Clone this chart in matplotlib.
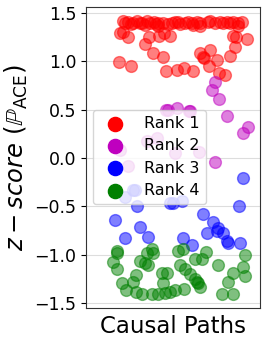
import numpy as np
import matplotlib
matplotlib.use("Agg")
import matplotlib.pyplot as plt

# scatter of z-scores per causal path, coloured by rank
rank1_x = [21.3, 24.1, 27.0, 29.3, 32.2, 35.1, 36.8, 39.1, 41.4, 44.3, 49.4, 51.1, 52.9,
           58.6, 60.9, 63.8, 65.5, 70.1, 71.3, 77.0, 78.7, 81.0, 82.8, 87.4, 89.7,
           22.4, 25.9, 31.0, 33.9, 40.2, 47.1, 54.0, 61.5, 65.5, 87.4, 41.4, 56.9, 74.1, 84.5,
           19.5, 21.3, 24.1, 33.9, 38.5, 44.3, 19.0, 25.9, 46.0, 52.3, 56.3, 61.5, 48.3,
           42.0, 44.8, 36.2, 65.5, 67.8, 71.3, 70.7, 75.3, 76.4, 79.9, 82.8, 85.6, 86.2,
           84.5, 92.5, 67.2]
rank1_y = [1.42, 1.41, 1.40, 1.42, 1.40, 1.42, 1.40, 1.41, 1.39, 1.40, 1.40, 1.41, 1.41,
           1.41, 1.40, 1.41, 1.40, 1.41, 1.42, 1.41, 1.40, 1.41, 1.40, 1.40, 1.41,
           1.39, 1.38, 1.39, 1.37, 1.38, 1.38, 1.38, 1.37, 1.36, 1.36, 1.36, 1.39, 1.40, 1.41,
           1.29, 1.30, 1.25, 1.18, 1.09, 1.045, 0.99, 0.95, 0.90, 0.91, 0.93, 0.90, 1.26,
           1.26, 1.29, 1.25, 1.08, 1.03, 1.12, 0.95, 1.01, 0.88, 0.86, 1.05, 1.15, 1.25,
           1.26, 1.23, 1.04]

rank2_x = [74.1, 72.4, 76.4, 47.1, 52.3, 59.2, 81.0, 93.1, 90.2, 74.1, 64.9, 51.1,
           40.8, 35.1, 19.5, 24.1, 59.8, 46.0]
rank2_y = [0.78, 0.70, 0.61, 0.50, 0.52, 0.48, 0.43, 0.32, 0.26, -0.04, 0.06, 0.05,
           0.21, 0.17, 0.08, -0.08, 0.48, 0.50]

rank3_x = [90.2, 87.9, 16.7, 22.4, 28.2, 29.3, 48.3, 55.2, 67.2, 73.0, 31.0, 75.9,
           22.4, 35.6, 55.7, 60.9, 69.5, 75.3, 78.7, 81.6, 88.5, 81.0, 50.0, 27.0]
rank3_y = [-0.21, -0.50, -0.64, -0.40, -0.33, -0.50, -0.47, -0.45, -0.58, -0.66, -0.71, -0.72,
           -0.83, -0.82, -0.83, -0.90, -0.78, -0.76, -0.78, -0.88, -0.88, -0.86, -0.47, -0.33]

rank4_x = [17.8, 17.8, 15.5, 17.8, 20.7, 23.0, 28.7, 27.0, 28.7, 31.0, 33.9, 35.1,
           37.9, 38.5, 35.6, 32.2, 37.9, 41.4, 44.3, 43.7, 46.6, 48.3, 51.1, 56.3,
           54.0, 56.9, 59.8, 62.6, 64.4, 65.5, 52.9, 55.7, 62.6, 66.7, 69.0, 75.9,
           78.2, 84.5, 81.6, 84.5, 91.4, 90.2, 91.4, 63.8, 45.4]
rank4_y = [-0.96, -0.98, -1.08, -1.15, -1.29, -1.37, -1.39, -1.28, -1.21, -1.07, -1.09, -0.98,
           -0.94, -0.98, -1.11, -1.41, -1.41, -1.41, -1.29, -1.19, -1.19, -1.39, -1.37, -1.36,
           -1.11, -1.15, -1.20, -1.25, -1.29, -1.33, -0.96, -0.94, -1.05, -1.05, -0.97, -1.11,
           -1.41, -1.41, -1.28, -1.19, -1.00, -1.13, -1.22, -1.28, -1.40]

ranks = ["Rank 1", "Rank 2", "Rank 3", "Rank 4"]
colors = ["red", "m", "blue", "green"]
yticks = [-1.5, -1.0, -0.5, 0.0, 0.5, 1.0, 1.5]

fig = plt.figure(figsize=(2.66, 3.43), dpi=100)
ax = fig.add_axes([0.323, 0.102, 0.654, 0.878])

for xs, ys, c, lab in zip([rank1_x, rank2_x, rank3_x, rank4_x],
                          [rank1_y, rank2_y, rank3_y, rank4_y], colors, ranks):
    ax.scatter(xs, ys, s=72, color=c, alpha=0.5, label=lab, zorder=2)

ax.set_xlim(0, 100)
ax.set_ylim(-1.552, 1.562)
ax.set_yticks(yticks)
ax.set_xticks([])
ax.tick_params(axis="y", labelsize=12.5, length=3.5)
ax.grid(axis="y", color="#dddddd", linewidth=0.8, zorder=0)
ax.set_axisbelow(True)
for sp in ax.spines.values():
    sp.set_color("#333333")

ax.set_xlabel("Causal Paths", fontsize=16.5, labelpad=5)
ax.set_ylabel(r"$z-score\ (\mathbb{P}_{\rm ACE})$", fontsize=17.5, labelpad=3)

leg = ax.legend(loc="upper left", bbox_to_anchor=(0.04, 0.658), borderaxespad=0,
                fontsize=11.5, markerscale=1.2, labelspacing=0.45, handletextpad=0.8)
for h in leg.legend_handles:
    h.set_alpha(1)

fig.savefig("out.png", dpi=100)
